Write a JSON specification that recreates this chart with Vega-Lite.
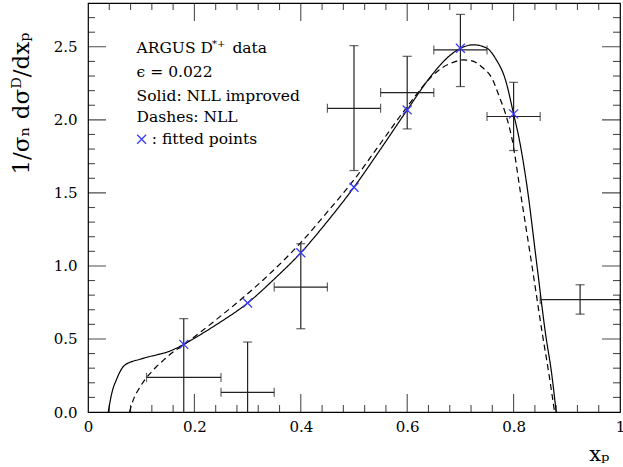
{
  "$schema": "https://vega.github.io/schema/vega-lite/v6.json",
  "width": 532,
  "height": 409,
  "autosize": {"type": "none"},
  "padding": {"left": 88, "top": 3, "right": 3, "bottom": 55},
  "config": {
    "background": "white",
    "view": {"stroke": "#000", "strokeWidth": 1.2},
    "font": "DejaVu Serif",
    "axis": {
      "labelColor": "#000", "labelFont": "DejaVu Serif", "labelFontSize": 15,
      "titleFont": "DejaVu Serif", "titleFontWeight": "normal", "titleColor": "#000"
    }
  },
  "datasets": {
    "curves": [
      {"x": 0.038, "y": 0, "s": "NLL improved"},
      {"x": 0.040, "y": 0.04, "s": "NLL improved"},
      {"x": 0.043, "y": 0.10, "s": "NLL improved"},
      {"x": 0.047, "y": 0.16, "s": "NLL improved"},
      {"x": 0.053, "y": 0.217, "s": "NLL improved"},
      {"x": 0.058, "y": 0.26, "s": "NLL improved"},
      {"x": 0.065, "y": 0.305, "s": "NLL improved"},
      {"x": 0.072, "y": 0.328, "s": "NLL improved"},
      {"x": 0.080, "y": 0.342, "s": "NLL improved"},
      {"x": 0.095, "y": 0.358, "s": "NLL improved"},
      {"x": 0.112, "y": 0.376, "s": "NLL improved"},
      {"x": 0.130, "y": 0.392, "s": "NLL improved"},
      {"x": 0.150, "y": 0.412, "s": "NLL improved"},
      {"x": 0.165, "y": 0.435, "s": "NLL improved"},
      {"x": 0.18, "y": 0.463, "s": "NLL improved"},
      {"x": 0.20, "y": 0.505, "s": "NLL improved"},
      {"x": 0.24, "y": 0.595, "s": "NLL improved"},
      {"x": 0.30, "y": 0.746, "s": "NLL improved"},
      {"x": 0.35, "y": 0.91, "s": "NLL improved"},
      {"x": 0.40, "y": 1.09, "s": "NLL improved"},
      {"x": 0.45, "y": 1.305, "s": "NLL improved"},
      {"x": 0.50, "y": 1.539, "s": "NLL improved"},
      {"x": 0.55, "y": 1.80, "s": "NLL improved"},
      {"x": 0.60, "y": 2.068, "s": "NLL improved"},
      {"x": 0.647, "y": 2.31, "s": "NLL improved"},
      {"x": 0.68, "y": 2.44, "s": "NLL improved"},
      {"x": 0.70, "y": 2.49, "s": "NLL improved"},
      {"x": 0.725, "y": 2.514, "s": "NLL improved"},
      {"x": 0.75, "y": 2.49, "s": "NLL improved"},
      {"x": 0.766, "y": 2.42, "s": "NLL improved"},
      {"x": 0.785, "y": 2.27, "s": "NLL improved"},
      {"x": 0.80, "y": 2.04, "s": "NLL improved"},
      {"x": 0.811, "y": 1.86, "s": "NLL improved"},
      {"x": 0.825, "y": 1.55, "s": "NLL improved"},
      {"x": 0.844, "y": 1.0, "s": "NLL improved"},
      {"x": 0.860, "y": 0.536, "s": "NLL improved"},
      {"x": 0.872, "y": 0.25, "s": "NLL improved"},
      {"x": 0.880, "y": 0, "s": "NLL improved"},
      {"x": 0.078, "y": 0, "s": "NLL"},
      {"x": 0.082, "y": 0.05, "s": "NLL"},
      {"x": 0.087, "y": 0.10, "s": "NLL"},
      {"x": 0.096, "y": 0.16, "s": "NLL"},
      {"x": 0.106, "y": 0.217, "s": "NLL"},
      {"x": 0.117, "y": 0.265, "s": "NLL"},
      {"x": 0.128, "y": 0.308, "s": "NLL"},
      {"x": 0.142, "y": 0.355, "s": "NLL"},
      {"x": 0.156, "y": 0.40, "s": "NLL"},
      {"x": 0.18, "y": 0.46, "s": "NLL"},
      {"x": 0.235, "y": 0.615, "s": "NLL"},
      {"x": 0.297, "y": 0.80, "s": "NLL"},
      {"x": 0.35, "y": 0.975, "s": "NLL"},
      {"x": 0.40, "y": 1.16, "s": "NLL"},
      {"x": 0.45, "y": 1.37, "s": "NLL"},
      {"x": 0.50, "y": 1.59, "s": "NLL"},
      {"x": 0.55, "y": 1.84, "s": "NLL"},
      {"x": 0.60, "y": 2.09, "s": "NLL"},
      {"x": 0.647, "y": 2.30, "s": "NLL"},
      {"x": 0.665, "y": 2.355, "s": "NLL"},
      {"x": 0.685, "y": 2.392, "s": "NLL"},
      {"x": 0.705, "y": 2.41, "s": "NLL"},
      {"x": 0.72, "y": 2.405, "s": "NLL"},
      {"x": 0.741, "y": 2.36, "s": "NLL"},
      {"x": 0.76, "y": 2.28, "s": "NLL"},
      {"x": 0.774, "y": 2.15, "s": "NLL"},
      {"x": 0.785, "y": 2.04, "s": "NLL"},
      {"x": 0.797, "y": 1.87, "s": "NLL"},
      {"x": 0.813, "y": 1.50, "s": "NLL"},
      {"x": 0.835, "y": 0.99, "s": "NLL"},
      {"x": 0.854, "y": 0.536, "s": "NLL"},
      {"x": 0.866, "y": 0.27, "s": "NLL"},
      {"x": 0.877, "y": 0, "s": "NLL"}
    ],
    "bars": [
      {"xc": 0.18, "xlo": 0.11, "xhi": 0.25, "yc": 0.237, "ylo": -0.165, "yhi": 0.639},
      {"xc": 0.30, "xlo": 0.25, "xhi": 0.35, "yc": 0.135, "ylo": -0.209, "yhi": 0.479},
      {"xc": 0.40, "xlo": 0.35, "xhi": 0.45, "yc": 0.855, "ylo": 0.570, "yhi": 1.152},
      {"xc": 0.50, "xlo": 0.45, "xhi": 0.55, "yc": 2.079, "ylo": 1.653, "yhi": 2.508},
      {"xc": 0.60, "xlo": 0.55, "xhi": 0.65, "yc": 2.187, "ylo": 1.938, "yhi": 2.435},
      {"xc": 0.70, "xlo": 0.65, "xhi": 0.75, "yc": 2.479, "ylo": 2.228, "yhi": 2.722},
      {"xc": 0.80, "xlo": 0.75, "xhi": 0.85, "yc": 2.023, "ylo": 1.790, "yhi": 2.257},
      {"xc": 0.925, "xlo": 0.85, "xhi": 1.0, "yc": 0.769, "ylo": 0.670, "yhi": 0.871}
    ],
    "fits": [
      {"x": 0.18, "y": 0.463},
      {"x": 0.30, "y": 0.746},
      {"x": 0.40, "y": 1.09},
      {"x": 0.50, "y": 1.539},
      {"x": 0.60, "y": 2.068},
      {"x": 0.70, "y": 2.49},
      {"x": 0.80, "y": 2.041}
    ],
    "notes": [
      {"t": "ARGUS D", "tx": 0.0914, "ty": 2.456},
      {"t": "data", "tx": 0.2715, "ty": 2.456},
      {"t": "ϵ = 0.022", "tx": 0.0914, "ty": 2.295},
      {"t": "Solid: NLL improved", "tx": 0.0914, "ty": 2.131},
      {"t": "Dashes: NLL", "tx": 0.0914, "ty": 1.984},
      {"t": ": fitted points", "tx": 0.12, "ty": 1.836}
    ],
    "sup": [{"t": "*+", "tx": 0.233, "ty": 2.50}],
    "marker": [{"mx": 0.1008, "my": 1.867}],
    "xmajor": [{"v": 0.2}, {"v": 0.4}, {"v": 0.6}, {"v": 0.8}],
    "xminor": [{"v": 0.04}, {"v": 0.08}, {"v": 0.12}, {"v": 0.16}, {"v": 0.24}, {"v": 0.28}, {"v": 0.32}, {"v": 0.36}, {"v": 0.44}, {"v": 0.48}, {"v": 0.52}, {"v": 0.56}, {"v": 0.64}, {"v": 0.68}, {"v": 0.72}, {"v": 0.76}, {"v": 0.84}, {"v": 0.88}, {"v": 0.92}, {"v": 0.96}],
    "ymajor": [{"v": 0.5}, {"v": 1.0}, {"v": 1.5}, {"v": 2.0}, {"v": 2.5}],
    "yminor": [{"v": 0.1}, {"v": 0.2}, {"v": 0.3}, {"v": 0.4}, {"v": 0.6}, {"v": 0.7}, {"v": 0.8}, {"v": 0.9}, {"v": 1.1}, {"v": 1.2}, {"v": 1.3}, {"v": 1.4}, {"v": 1.6}, {"v": 1.7}, {"v": 1.8}, {"v": 1.9}, {"v": 2.1}, {"v": 2.2}, {"v": 2.3}, {"v": 2.4}, {"v": 2.6}, {"v": 2.7}]
  },
  "resolve": {"scale": {"x": "independent", "y": "independent"}, "axis": {"x": "independent", "y": "independent"}},
  "layer": [
    {
      "data": {"name": "curves"},
      "mark": {"type": "line", "interpolate": "monotone", "strokeWidth": 1.2, "color": "#000", "clip": true},
      "encoding": {
        "x": {"field": "x", "type": "quantitative", "scale": {"domain": [0, 1], "nice": false, "zero": false},
          "axis": {"orient": "bottom", "values": [0, 0.2, 0.4, 0.6, 0.8, 1], "ticks": false, "grid": false, "domain": false, "labelPadding": 7,
            "labelExpr": "datum.value == 0 ? '0' : datum.value == 1 ? '1' : format(datum.value, '.1f')",
            "labelFlush": false,
            "title": "xₚ", "titleFontSize": 21, "titleAnchor": "end", "titleAlign": "right", "titleX": 521, "titleY": 48, "titleBaseline": "alphabetic"}},
        "y": {"field": "y", "type": "quantitative", "scale": {"domain": [0, 2.8], "nice": false, "zero": false},
          "axis": {"orient": "left", "values": [0, 0.5, 1, 1.5, 2, 2.5], "ticks": false, "grid": false, "domain": false, "labelPadding": 11, "format": ".1f",
            "labelFlush": false,
            "title": "1/σₙ dσᴰ/dxₚ", "titleFontSize": 23, "titleAngle": -90, "titleAlign": "center", "titleX": -60, "titleY": 100, "titleBaseline": "alphabetic"}},
        "strokeDash": {"field": "s", "type": "nominal", "scale": {"domain": ["NLL improved", "NLL"], "range": [[1, 0], [6, 4]]}, "legend": null}
      }
    },
    {
      "data": {"name": "xmajor"},
      "mark": {"type": "tick", "orient": "vertical", "color": "#000", "size": 36, "thickness": 1.1, "clip": true},
      "encoding": {
        "x": {"field": "v", "type": "quantitative", "scale": {"domain": [0, 1], "nice": false, "zero": false}, "axis": null},
        "y": {"datum": 0, "type": "quantitative", "scale": {"domain": [0, 2.8], "nice": false, "zero": false}, "axis": null}
      }
    },
    {
      "data": {"name": "xmajor"},
      "mark": {"type": "tick", "orient": "vertical", "color": "#000", "size": 36, "thickness": 1.1, "clip": true},
      "encoding": {
        "x": {"field": "v", "type": "quantitative", "scale": {"domain": [0, 1], "nice": false, "zero": false}, "axis": null},
        "y": {"datum": 2.8, "type": "quantitative", "scale": {"domain": [0, 2.8], "nice": false, "zero": false}, "axis": null}
      }
    },
    {
      "data": {"name": "xminor"},
      "mark": {"type": "tick", "orient": "vertical", "color": "#000", "size": 14, "thickness": 1.1, "clip": true},
      "encoding": {
        "x": {"field": "v", "type": "quantitative", "scale": {"domain": [0, 1], "nice": false, "zero": false}, "axis": null},
        "y": {"datum": 0, "type": "quantitative", "scale": {"domain": [0, 2.8], "nice": false, "zero": false}, "axis": null}
      }
    },
    {
      "data": {"name": "xminor"},
      "mark": {"type": "tick", "orient": "vertical", "color": "#000", "size": 14, "thickness": 1.1, "clip": true},
      "encoding": {
        "x": {"field": "v", "type": "quantitative", "scale": {"domain": [0, 1], "nice": false, "zero": false}, "axis": null},
        "y": {"datum": 2.8, "type": "quantitative", "scale": {"domain": [0, 2.8], "nice": false, "zero": false}, "axis": null}
      }
    },
    {
      "data": {"name": "ymajor"},
      "mark": {"type": "tick", "orient": "horizontal", "color": "#000", "size": 36, "thickness": 1.1, "clip": true},
      "encoding": {
        "x": {"datum": 0, "type": "quantitative", "scale": {"domain": [0, 1], "nice": false, "zero": false}, "axis": null},
        "y": {"field": "v", "type": "quantitative", "scale": {"domain": [0, 2.8], "nice": false, "zero": false}, "axis": null}
      }
    },
    {
      "data": {"name": "ymajor"},
      "mark": {"type": "tick", "orient": "horizontal", "color": "#000", "size": 36, "thickness": 1.1, "clip": true},
      "encoding": {
        "x": {"datum": 1, "type": "quantitative", "scale": {"domain": [0, 1], "nice": false, "zero": false}, "axis": null},
        "y": {"field": "v", "type": "quantitative", "scale": {"domain": [0, 2.8], "nice": false, "zero": false}, "axis": null}
      }
    },
    {
      "data": {"name": "yminor"},
      "mark": {"type": "tick", "orient": "horizontal", "color": "#000", "size": 14, "thickness": 1.1, "clip": true},
      "encoding": {
        "x": {"datum": 0, "type": "quantitative", "scale": {"domain": [0, 1], "nice": false, "zero": false}, "axis": null},
        "y": {"field": "v", "type": "quantitative", "scale": {"domain": [0, 2.8], "nice": false, "zero": false}, "axis": null}
      }
    },
    {
      "data": {"name": "yminor"},
      "mark": {"type": "tick", "orient": "horizontal", "color": "#000", "size": 14, "thickness": 1.1, "clip": true},
      "encoding": {
        "x": {"datum": 1, "type": "quantitative", "scale": {"domain": [0, 1], "nice": false, "zero": false}, "axis": null},
        "y": {"field": "v", "type": "quantitative", "scale": {"domain": [0, 2.8], "nice": false, "zero": false}, "axis": null}
      }
    },
    {
      "data": {"name": "bars"},
      "mark": {"type": "rule", "color": "#222", "strokeWidth": 1.2, "clip": true},
      "encoding": {
        "x": {"field": "xc", "type": "quantitative", "scale": {"domain": [0, 1], "nice": false, "zero": false}, "axis": null},
        "y": {"field": "ylo", "type": "quantitative", "scale": {"domain": [0, 2.8], "nice": false, "zero": false}, "axis": null},
        "y2": {"field": "yhi"}
      }
    },
    {
      "data": {"name": "bars"},
      "mark": {"type": "rule", "color": "#222", "strokeWidth": 1.2, "clip": true},
      "encoding": {
        "x": {"field": "xlo", "type": "quantitative", "scale": {"domain": [0, 1], "nice": false, "zero": false}, "axis": null},
        "x2": {"field": "xhi"},
        "y": {"field": "yc", "type": "quantitative", "scale": {"domain": [0, 2.8], "nice": false, "zero": false}, "axis": null}
      }
    },
    {
      "data": {"name": "bars"},
      "mark": {"type": "tick", "orient": "horizontal", "color": "#222", "size": 9, "thickness": 1.2, "clip": true},
      "encoding": {
        "x": {"field": "xc", "type": "quantitative", "scale": {"domain": [0, 1], "nice": false, "zero": false}, "axis": null},
        "y": {"field": "yhi", "type": "quantitative", "scale": {"domain": [0, 2.8], "nice": false, "zero": false}, "axis": null}
      }
    },
    {
      "data": {"name": "bars"},
      "mark": {"type": "tick", "orient": "horizontal", "color": "#222", "size": 9, "thickness": 1.2, "clip": true},
      "encoding": {
        "x": {"field": "xc", "type": "quantitative", "scale": {"domain": [0, 1], "nice": false, "zero": false}, "axis": null},
        "y": {"field": "ylo", "type": "quantitative", "scale": {"domain": [0, 2.8], "nice": false, "zero": false}, "axis": null}
      }
    },
    {
      "data": {"name": "bars"},
      "mark": {"type": "tick", "orient": "vertical", "color": "#222", "size": 9, "thickness": 1.2, "clip": true},
      "encoding": {
        "x": {"field": "xlo", "type": "quantitative", "scale": {"domain": [0, 1], "nice": false, "zero": false}, "axis": null},
        "y": {"field": "yc", "type": "quantitative", "scale": {"domain": [0, 2.8], "nice": false, "zero": false}, "axis": null}
      }
    },
    {
      "data": {"name": "bars"},
      "mark": {"type": "tick", "orient": "vertical", "color": "#222", "size": 9, "thickness": 1.2, "clip": true},
      "encoding": {
        "x": {"field": "xhi", "type": "quantitative", "scale": {"domain": [0, 1], "nice": false, "zero": false}, "axis": null},
        "y": {"field": "yc", "type": "quantitative", "scale": {"domain": [0, 2.8], "nice": false, "zero": false}, "axis": null}
      }
    },
    {
      "data": {"name": "fits"},
      "mark": {"type": "point", "shape": "M-1,-1L1,1M-1,1L1,-1", "size": 80, "filled": false, "stroke": "#3a3aff", "strokeWidth": 1.3, "opacity": 1},
      "encoding": {
        "x": {"field": "x", "type": "quantitative", "scale": {"domain": [0, 1], "nice": false, "zero": false}, "axis": null},
        "y": {"field": "y", "type": "quantitative", "scale": {"domain": [0, 2.8], "nice": false, "zero": false}, "axis": null}
      }
    },
    {
      "data": {"name": "marker"},
      "mark": {"type": "point", "shape": "M-1,-1L1,1M-1,1L1,-1", "size": 80, "filled": false, "stroke": "#3a3aff", "strokeWidth": 1.3, "opacity": 1},
      "encoding": {
        "x": {"field": "mx", "type": "quantitative", "scale": {"domain": [0, 1], "nice": false, "zero": false}, "axis": null},
        "y": {"field": "my", "type": "quantitative", "scale": {"domain": [0, 2.8], "nice": false, "zero": false}, "axis": null}
      }
    },
    {
      "data": {"name": "notes"},
      "mark": {"type": "text", "align": "left", "baseline": "alphabetic", "font": "DejaVu Serif", "fontSize": 15.5, "color": "#000"},
      "encoding": {
        "x": {"field": "tx", "type": "quantitative", "scale": {"domain": [0, 1], "nice": false, "zero": false}, "axis": null},
        "y": {"field": "ty", "type": "quantitative", "scale": {"domain": [0, 2.8], "nice": false, "zero": false}, "axis": null},
        "text": {"field": "t"}
      }
    },
    {
      "data": {"name": "sup"},
      "mark": {"type": "text", "align": "left", "baseline": "alphabetic", "font": "DejaVu Serif", "fontSize": 10, "color": "#000"},
      "encoding": {
        "x": {"field": "tx", "type": "quantitative", "scale": {"domain": [0, 1], "nice": false, "zero": false}, "axis": null},
        "y": {"field": "ty", "type": "quantitative", "scale": {"domain": [0, 2.8], "nice": false, "zero": false}, "axis": null},
        "text": {"field": "t"}
      }
    }
  ]
}
